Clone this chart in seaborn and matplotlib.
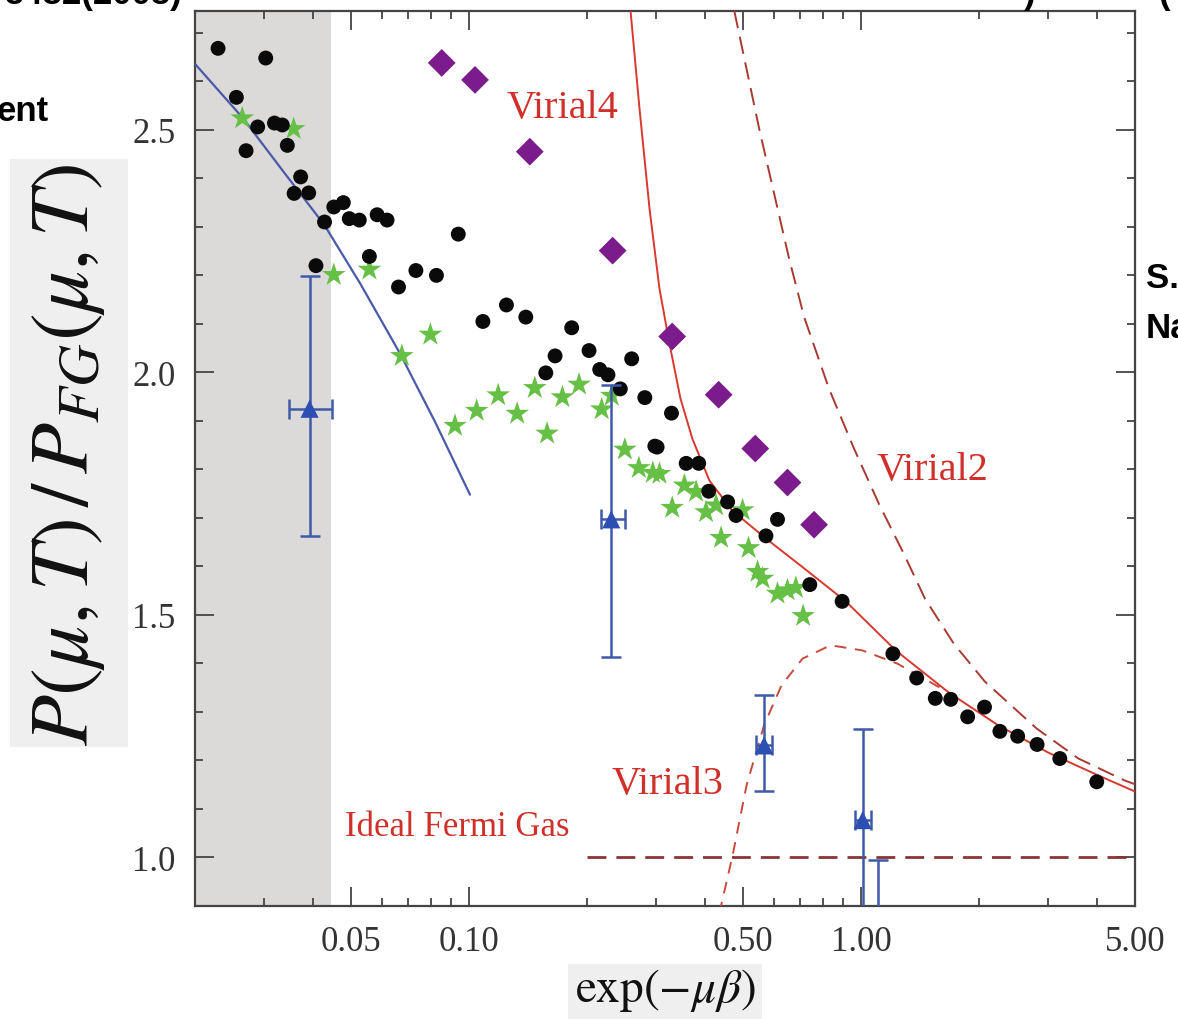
import numpy as np
import pandas as pd
import matplotlib
matplotlib.use("Agg")
import matplotlib.pyplot as plt
from matplotlib.patches import Rectangle
import seaborn as sns
from matplotlib.ticker import FixedLocator, FixedFormatter, NullFormatter, MultipleLocator, LogLocator

# ---------------- data ----------------
# black dots
dots_x = [0.0229, 0.0303, 0.0255, 0.0289, 0.0319, 0.0334, 0.0270, 0.0344, 0.0372, 0.0358,
          0.0390, 0.0428, 0.0452, 0.0478, 0.0495, 0.0525, 0.0583, 0.0618, 0.0939, 0.0407,
          0.0557, 0.0732, 0.0826, 0.0661, 0.1085, 0.1246, 0.1396, 0.1828, 0.1658, 0.2024,
          0.1570, 0.2155, 0.2262, 0.2600, 0.2432, 0.2809, 0.3285, 0.2979, 0.3019, 0.3581,
          0.3855, 0.4088, 0.4568, 0.4799, 0.6124, 0.5722, 0.7403, 0.8950, 1.206, 1.387,
          1.547, 1.694, 1.871, 2.066, 2.261, 2.510, 2.813, 3.215, 3.994]
dots_y = [2.668, 2.648, 2.567, 2.506, 2.514, 2.510, 2.457, 2.468, 2.403, 2.369,
          2.370, 2.310, 2.341, 2.350, 2.317, 2.314, 2.325, 2.314, 2.285, 2.220,
          2.239, 2.210, 2.200, 2.176, 2.105, 2.139, 2.114, 2.092, 2.034, 2.045,
          1.999, 2.006, 1.995, 2.028, 1.966, 1.948, 1.916, 1.848, 1.846, 1.8125,
          1.8125, 1.755, 1.733, 1.705, 1.697, 1.663, 1.5625, 1.528, 1.420, 1.370,
          1.328, 1.326, 1.290, 1.310, 1.260, 1.250, 1.233, 1.204, 1.156]

# green stars
stars_x = [0.0264, 0.0357, 0.0452, 0.0557, 0.0797, 0.0674, 0.0921, 0.1046, 0.1187, 0.1327,
           0.1472, 0.1582, 0.1731, 0.1909, 0.2180, 0.2312, 0.2498, 0.2712, 0.2944, 0.3062,
           0.3544, 0.3797, 0.3299, 0.4025, 0.4269, 0.4989, 0.4396, 0.5166, 0.5447, 0.5609,
           0.6124, 0.6493, 0.6820, 0.7118]
stars_y = [2.524, 2.502, 2.201, 2.212, 2.078, 2.034, 1.890, 1.921, 1.953, 1.915,
           1.968, 1.874, 1.949, 1.975, 1.924, 1.952, 1.841, 1.803, 1.793, 1.791,
           1.767, 1.754, 1.721, 1.712, 1.726, 1.716, 1.659, 1.638, 1.589, 1.575,
           1.544, 1.551, 1.556, 1.498]

# purple diamonds
diam_x = [0.0852, 0.1036, 0.1429, 0.2325, 0.3299, 0.4334, 0.5374, 0.6493, 0.7592]
diam_y = [2.638, 2.603, 2.455, 2.251, 2.074, 1.954, 1.843, 1.773, 1.686]

# blue triangles with error bars
tri_x = [0.0392, 0.2307, 0.566, 1.010, 1.105]
tri_y = [1.925, 1.697, 1.231, 1.077, 0.750]
tri_yerr_lo = [0.262, 0.283, 0.094, 0.400, 0.200]
tri_yerr_hi = [0.274, 0.278, 0.103, 0.187, 0.244]
tri_xerr_lo = [0.0044, 0.013, 0.025, 0.045, 0.040]
tri_xerr_hi = [0.0054, 0.019, 0.027, 0.048, 0.044]

# blue theory line
blue_x = [0.0200, 0.02645, 0.03383, 0.04276, 0.0528, 0.06673, 0.08193, 0.10058]
blue_y = [2.636, 2.525, 2.411, 2.304, 2.183, 2.0385, 1.898, 1.748]

# red solid curve
vir4_x = [0.2583, 0.2723, 0.2888, 0.3062, 0.3247, 0.3463, 0.3715, 0.4105, 0.4696, 0.5732,
          0.7161, 0.9159, 1.2277, 1.675, 2.244, 3.008, 4.033, 5.000]
vir4_y = [2.745, 2.543, 2.337, 2.172, 2.059, 1.946, 1.863, 1.777, 1.715, 1.657,
          1.596, 1.5275, 1.4265, 1.340, 1.272, 1.216, 1.169, 1.136]

# Virial2 dashed curve
vir2_x = [0.4751, 0.5500, 0.6557, 0.7161, 0.8290, 0.9598, 1.111, 1.286, 1.455, 1.724,
          2.068, 2.804, 3.586, 4.697, 5.000]
vir2_y = [2.745, 2.502, 2.234, 2.114, 1.966, 1.843, 1.729, 1.626, 1.534, 1.441,
          1.363, 1.266, 1.204, 1.159, 1.151]

# Virial3 dashed curve
vir3_x = [0.4352, 0.4706, 0.5106, 0.5660, 0.6271, 0.7094, 0.8363, 1.0065, 1.2356, 1.675]
vir3_y = [0.885, 1.005, 1.149, 1.273, 1.355, 1.410, 1.4375, 1.427, 1.400, 1.340]

# ideal Fermi gas
ideal_x = [0.2, 5.0]
ideal_y = [1.0, 1.0]

shade_lo, shade_hi = 0.02, 0.0445

x_ticks = [0.05, 0.10, 0.50, 1.00, 5.00]
x_ticklabels = ["0.05", "0.10", "0.50", "1.00", "5.00"]
y_ticks = [1.0, 1.5, 2.0, 2.5]
y_ticklabels = ["1.0", "1.5", "2.0", "2.5"]

# ---------------- style ----------------
sns.set_theme(style="ticks")
plt.rcParams["font.family"] = ["Liberation Serif", "DejaVu Serif"]
plt.rcParams["mathtext.fontset"] = "stix"

W, H = 1178, 1020
fig = plt.figure(figsize=(W / 100, H / 100), dpi=100)
L, R, T, B = 195, 1135, 12, 907
ax = fig.add_axes([L / W, 1 - B / H, (R - L) / W, (B - T) / H])
ax.set_xscale("log")
ax.set_xlim(0.02, 5.0)
ax.set_ylim(0.9, 2.745)

ax.axvspan(shade_lo, shade_hi, color="#dcdad8", zorder=0, lw=0)


def draw_line(xs, ys, color, lw, dashes=None, z=3):
    sns.lineplot(x=xs, y=ys, ax=ax, color=color, lw=lw, sort=False, estimator=None, zorder=z)
    ln = ax.lines[-1]
    if dashes is not None:
        ln.set_dashes(dashes)
    return ln


draw_line(blue_x, blue_y, "#4a5aa8", 1.6)
draw_line(vir3_x, vir3_y, "#c84a3c", 1.4, dashes=[6, 4.5])
draw_line(vir4_x, vir4_y, "#d8392e", 1.4)
draw_line(vir2_x, vir2_y, "#a83a32", 1.4, dashes=[9, 4.5])
draw_line(ideal_x, ideal_y, "#8a3434", 2.0, dashes=[6.8, 3.6])

sns.scatterplot(x=dots_x, y=dots_y, ax=ax, color="#0a0a0a", s=115, marker="o", edgecolor="none", zorder=5)
sns.scatterplot(x=stars_x, y=stars_y, ax=ax, color="#66c046", s=320, marker="*", edgecolor="none", zorder=4)
sns.scatterplot(x=diam_x, y=diam_y, ax=ax, color="#7b1b8c", s=200, marker="D", edgecolor="none", zorder=4)

ax.errorbar(tri_x, tri_y, yerr=[tri_yerr_lo, tri_yerr_hi], xerr=[tri_xerr_lo, tri_xerr_hi],
            fmt="none", ecolor="#3f5aa8", elinewidth=1.8, capsize=7, capthick=1.8, zorder=6)
sns.scatterplot(x=tri_x, y=tri_y, ax=ax, color="#2c4fb4", s=170, marker="^", edgecolor="none", zorder=7)

# curve labels
lab = dict(color="#d0302a", family=["Liberation Serif"], va="center", ha="left")
ax.text(0.1249, 2.547, "Virial4", fontsize=29, **lab)
ax.text(1.098, 1.80, "Virial2", fontsize=29, **lab)
ax.text(0.2312, 1.152, "Virial3", fontsize=29, **lab)
ax.text(0.0484, 1.064, "Ideal Fermi Gas", fontsize=25, **lab)

# ticks
ax.xaxis.set_major_locator(FixedLocator(x_ticks))
ax.xaxis.set_major_formatter(FixedFormatter(x_ticklabels))
ax.xaxis.set_minor_locator(LogLocator(base=10, subs=np.arange(1, 10)))
ax.xaxis.set_minor_formatter(NullFormatter())
ax.yaxis.set_major_locator(FixedLocator(y_ticks))
ax.yaxis.set_major_formatter(FixedFormatter(y_ticklabels))
ax.yaxis.set_minor_locator(MultipleLocator(0.1))
ax.tick_params(which="both", direction="in", top=True, right=True, color="#444444", width=1.3)
ax.tick_params(which="major", length=14)
ax.tick_params(which="minor", length=6)
ax.tick_params(axis="x", which="major", pad=14, labelsize=25, labelcolor="#333333")
ax.tick_params(axis="y", which="major", pad=14, labelsize=25, labelcolor="#333333")
for s in ax.spines.values():
    s.set_color("#444444")
    s.set_linewidth(1.6)
ax.set_xlabel("")
ax.set_ylabel("")

# axis titles with grey boxes
fig.patches.append(Rectangle((10 / W, 1 - 748 / H), 118 / W, 588 / H, transform=fig.transFigure,
                             fc="#efefef", ec="none", zorder=0))
fig.text(69 / W, 1 - 455 / H, r"$P(\mu,T)\,/\,P_{FG}(\mu,T)$", rotation=90, ha="center", va="center",
         fontsize=60, color="#111111")
fig.patches.append(Rectangle((568 / W, 0), 194 / W, 55 / H, transform=fig.transFigure,
                             fc="#efefef", ec="none", zorder=0))
fig.text(665 / W, 1 - 991 / H, r"$\exp(-\mu\beta)$", ha="center", va="center",
         fontsize=34, color="#111111")

# fragments of the surrounding slide
frag = dict(fontsize=25, fontweight="bold", family=["Liberation Sans"], color="#000000")
fig.text(183 / W, 1 - 4 / H, "5432(2008)", ha="right", va="baseline", **frag)
fig.text(-3 / W, 1 - 121 / H, "ent", ha="left", va="baseline", **frag)
fig.text(1146 / W, 1 - 288 / H, "S. Nascimbene", ha="left", va="baseline", **frag)
fig.text(1146 / W, 1 - 338 / H, "Nature", ha="left", va="baseline", **frag)
fig.text(1024 / W, 1 - 4 / H, ")", ha="left", va="baseline", **frag)
fig.text(1158 / W, 1 - 4 / H, "(", ha="left", va="baseline", **frag)

fig.savefig("out.png", dpi=100)
